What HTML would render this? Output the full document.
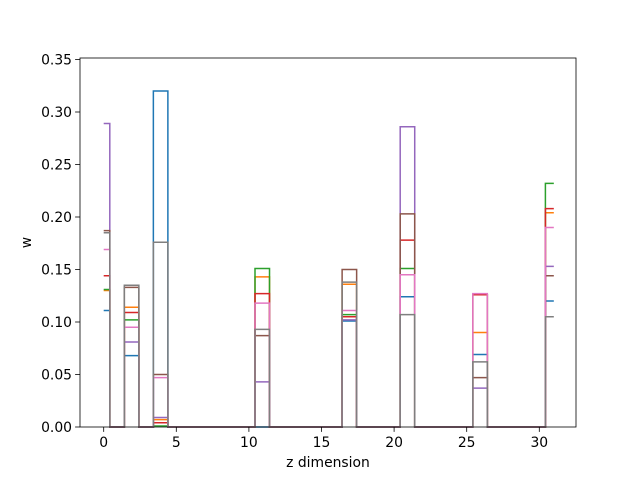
<!DOCTYPE html>
<html><head><meta charset="utf-8"><style>
body{margin:0;background:#fff}
svg{display:block;font-family:"DejaVu Sans","Liberation Sans",sans-serif}
</style></head><body>
<svg id="chart" width="640" height="480" viewBox="0 0 640 480">
<rect x="0" y="0" width="640" height="480" fill="#fff"/>
<g id="series"></g>
<g id="axes"></g>
</svg>
<script>
const edges = [0,0.42,1.42,2.42,3.42,4.42,10.42,11.42,16.42,17.42,20.42,21.42,25.42,26.42,30.42,31];
const binValueIndex = [0,null,1,null,2,null,3,null,4,null,5,null,6,null,7];
const seriesNames = ["series-0","series-1","series-2","series-3","series-4","series-5","series-6","series-7"];
const seriesColors = ["#1f77b4","#ff7f0e","#2ca02c","#d62728","#9467bd","#8c564b","#e377c2","#7f7f7f"];
const s0 = [0.111,0.068,0.320,0.000,0.101,0.124,0.069,0.120];
const s1 = [0.130,0.114,0.007,0.143,0.136,0.145,0.090,0.204];
const s2 = [0.131,0.102,0.001,0.151,0.107,0.151,0.126,0.232];
const s3 = [0.144,0.109,0.004,0.127,0.105,0.178,0.126,0.208];
const s4 = [0.289,0.081,0.009,0.043,0.102,0.286,0.037,0.153];
const s5 = [0.187,0.133,0.050,0.087,0.150,0.203,0.047,0.144];
const s6 = [0.169,0.095,0.047,0.118,0.111,0.145,0.127,0.190];
const s7 = [0.185,0.135,0.176,0.093,0.138,0.107,0.062,0.105];
const xTicks = [0,5,10,15,20,25,30];
const yTicks = [0,0.05,0.10,0.15,0.20,0.25,0.30,0.35];
const allSeries = [s0,s1,s2,s3,s4,s5,s6,s7];

const L=80,R=576,T=58,B=427;
const xs = v => 103.7 + v*14.52;
const ys = v => 427 - v*1050;
const NS="http://www.w3.org/2000/svg";
const sg=document.getElementById('series'), ag=document.getElementById('axes');
function mk(tag,attrs,parent){const e=document.createElementNS(NS,tag);for(const k in attrs)e.setAttribute(k,attrs[k]);parent.appendChild(e);return e;}

allSeries.forEach((vals,si)=>{
  let d='';
  for(let b=0;b<edges.length-1;b++){
    const idx=binValueIndex[b];
    const v= idx===null?0:vals[idx];
    const x1=xs(edges[b]),x2=xs(edges[b+1]),y=ys(v);
    d += (b===0?'M':'L')+x1.toFixed(2)+','+y.toFixed(2)+' L'+x2.toFixed(2)+','+y.toFixed(2)+' ';
  }
  const p=mk('path',{d:d,fill:'none',stroke:seriesColors[si],'stroke-width':1.5,'stroke-linejoin':'miter'},sg);
  
  
});

const frame=mk('rect',{x:L,y:T,width:R-L,height:B-T,fill:'none',stroke:'#000','stroke-width':0.8},ag);


xTicks.forEach(t=>{
  const x=xs(t);
  const tk=mk('line',{x1:x,y1:B,x2:x,y2:B+4.9,stroke:'#000','stroke-width':0.8},ag);
  
  
  const tx=mk('text',{x:x,y:B+20,'font-size':13.9,'text-anchor':'middle',fill:'#000'},ag);
  tx.textContent=String(t);
  
  
});
yTicks.forEach(t=>{
  const y=ys(t);
  const tk=mk('line',{x1:L-4.9,y1:y,x2:L,y2:y,stroke:'#000','stroke-width':0.8},ag);
  
  
  const tx=mk('text',{x:L-8,y:y+5,'font-size':13.9,'text-anchor':'end',fill:'#000'},ag);
  tx.textContent=t.toFixed(2);
  
  
});
const xl=mk('text',{x:(L+R)/2,y:467,'font-size':13.9,'text-anchor':'middle',fill:'#000'},ag);
xl.textContent='z dimension';


const yl=mk('text',{x:31,y:(T+B)/2,'font-size':13.9,'text-anchor':'middle',fill:'#000',transform:'rotate(-90 31 '+((T+B)/2)+')'},ag);
yl.textContent='w';


</script>
</body></html>
